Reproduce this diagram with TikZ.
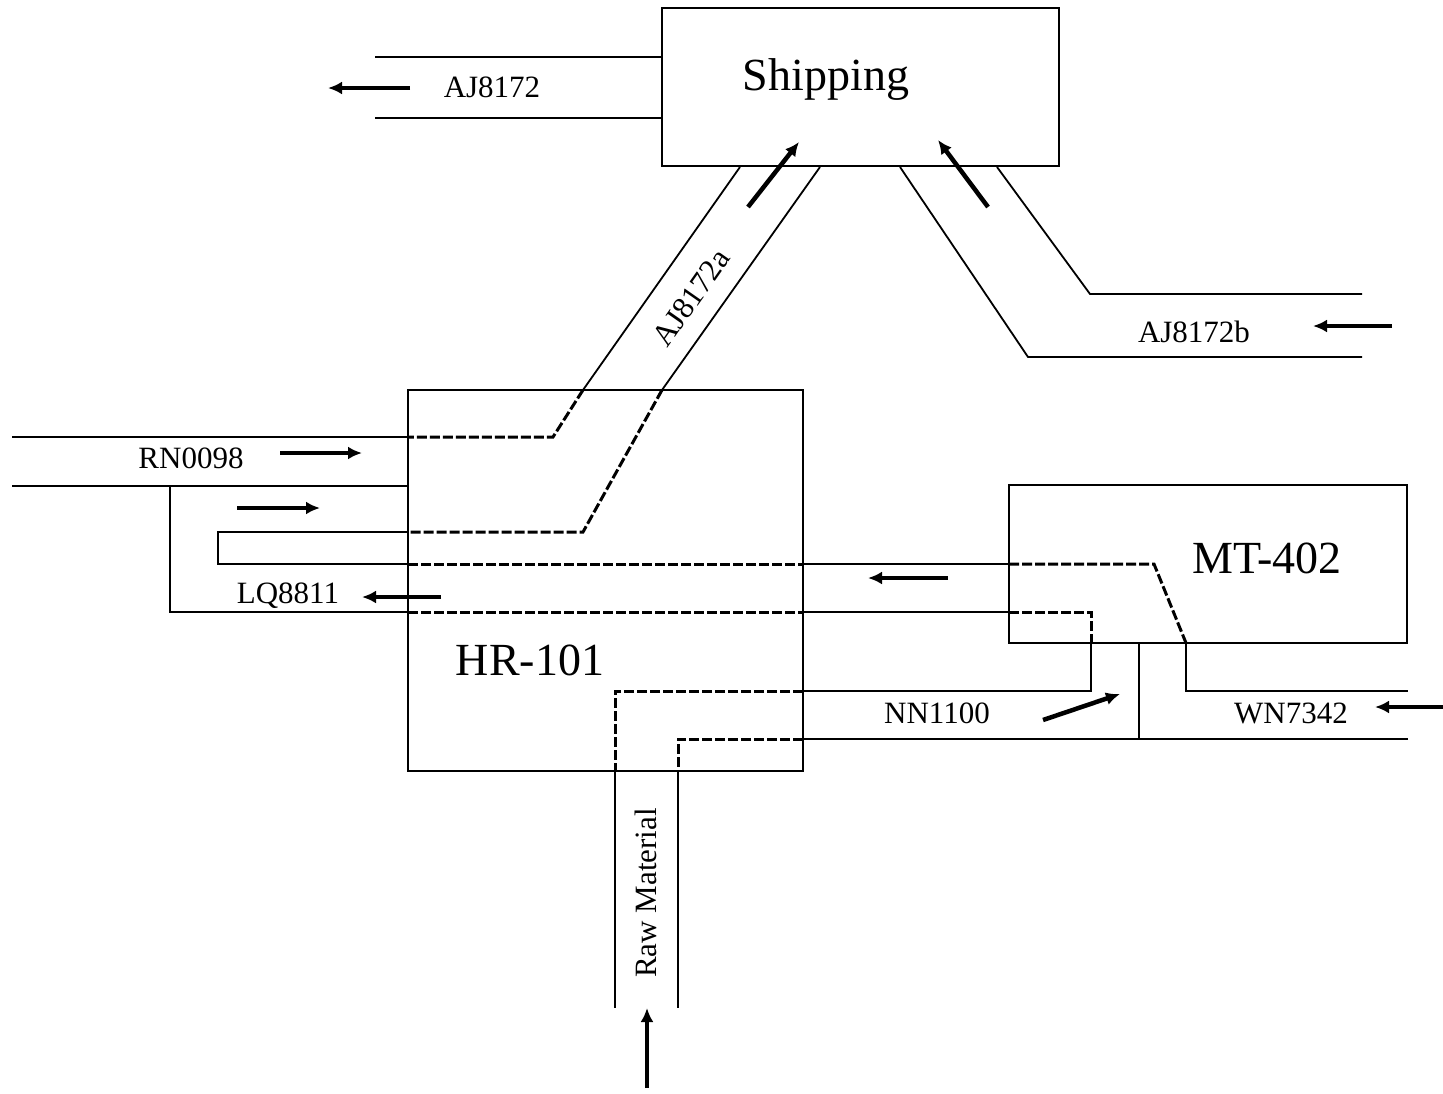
\documentclass[tikz,border=0pt]{standalone}
\usepackage{fontspec}
\setmainfont{Liberation Serif}
\usetikzlibrary{arrows.meta}

\begin{document}
\begin{tikzpicture}[x=1pt, y=-1pt,
    unit/.style={draw, line width=2pt, inner sep=0pt},
    pipe/.style={line width=1.8pt},
    hidden/.style={line width=3pt, dash pattern=on 10pt off 3pt},
    flow/.style={line width=4.5pt, -{Latex[length=14pt, width=13pt]}},
    tag/.style={font=\fontsize{31}{36}\selectfont, inner sep=0pt, anchor=base},
    title/.style={font=\fontsize{46}{54}\selectfont, inner sep=0pt, anchor=base}]
  \useasboundingbox (0,0) rectangle (1443,1093);

  \node[unit, minimum width=397pt, minimum height=158pt] (shipping) at (860.5,87) {};
  \node[unit, minimum width=395pt, minimum height=381pt] (hr) at (605.5,580.5) {};
  \node[unit, minimum width=398pt, minimum height=158pt] (mt) at (1208,564) {};
  \node[title] (shiptext) at (826,90) {Shipping};
  \node[title] (hrtext) at (530,675) {HR-101};
  \node[title] (mttext) at (1267,573) {MT-402};

  \draw[pipe] (375,57) -- (662,57);
  \draw[pipe] (375,118) -- (662,118);
  \node[tag] (aj) at (492,97) {AJ8172};
  \draw[flow] (410,88) -- (328,88);

  \draw[pipe] (740,167) -- (583,390);
  \draw[hidden] (583,390) -- (553,437) -- (408,437);
  \draw[pipe] (408,437) -- (12,437);
  \draw[pipe] (820,167) -- (662,390);
  \draw[hidden] (662,390) -- (583,532) -- (408,532);
  \draw[pipe] (408,532) -- (218,532) -- (218,564) -- (408,564);
  \draw[hidden] (408,564) -- (803,564);
  \draw[pipe] (803,564) -- (1009,564);
  \draw[hidden] (1009,564) -- (1154,564) -- (1186,643);
  \draw[pipe] (1186,643) -- (1186,691) -- (1408,691);
  \node[tag, rotate=55, anchor=center] (aja) at (691,298) {AJ8172a};
  \draw[flow] (748,207) -- (799,142);

  \draw[pipe] (900,167) -- (1028,357) -- (1362,357);
  \draw[pipe] (997,167) -- (1090,294) -- (1362,294);
  \node[tag] (ajb) at (1194,342) {AJ8172b};
  \draw[flow] (988,207) -- (938,140);
  \draw[flow] (1392,326) -- (1313,326);

  \draw[pipe] (12,486) -- (408,486);
  \node[tag] (rn) at (191,468) {RN0098};
  \draw[flow] (280,453) -- (362,453);
  \draw[flow] (237,508) -- (320,508);

  \draw[pipe] (170,486) -- (170,612) -- (408,612);
  \draw[hidden] (408,612) -- (803,612);
  \draw[pipe] (803,612) -- (1009,612);
  \draw[hidden] (1009,612) -- (1091,612) -- (1091,643);
  \draw[pipe] (1091,643) -- (1091,691) -- (803,691);
  \draw[hidden] (803,691) -- (615,691) -- (615,771);
  \draw[pipe] (615,771) -- (615,1008);
  \node[tag] (lq) at (288,603) {LQ8811};
  \draw[flow] (441,597) -- (362,597);
  \draw[flow] (948,578) -- (868,578);

  \draw[pipe] (1408,739) -- (803,739);
  \draw[hidden] (803,739) -- (678,739) -- (678,771);
  \draw[pipe] (678,771) -- (678,1008);
  \draw[pipe] (1139,643) -- (1139,739);
  \node[tag] (nn) at (937,723) {NN1100};
  \draw[flow] (1043,720) -- (1120,694);
  \node[tag] (wn) at (1291,723) {WN7342};
  \draw[flow] (1443,707) -- (1375,707);

  \node[tag, rotate=90, anchor=center] (raw) at (646,893) {Raw Material};
  \draw[flow] (647,1088) -- (647,1008);
\end{tikzpicture}
\end{document}
